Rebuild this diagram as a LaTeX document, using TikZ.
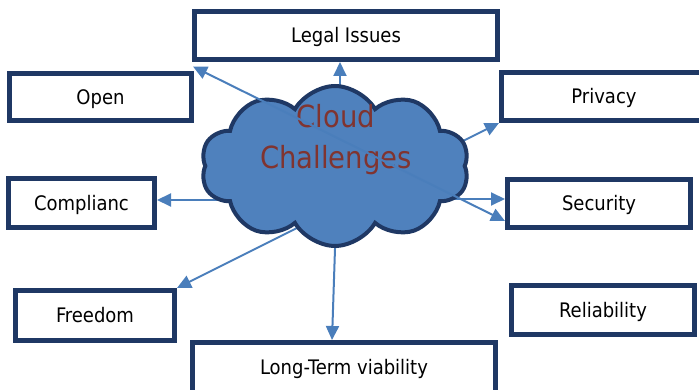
\documentclass[tikz,border=0pt]{standalone}
\usepackage{fontspec}
\setmainfont{DejaVu Sans Condensed}
\usetikzlibrary{positioning, shapes.symbols, arrows.meta, backgrounds, calc}

\definecolor{boxline}{RGB}{31,56,100}
\definecolor{cloudfill}{RGB}{79,129,189}
\definecolor{arrowblue}{RGB}{74,126,187}
\definecolor{titlered}{RGB}{128,52,48}

\begin{document}
\begin{tikzpicture}[x=1pt, y=-1pt,
    >={Triangle[length=14pt,width=13pt]},
    topic/.style={draw=boxline, line width=5pt, fill=white, inner sep=0pt,
        text height=14.5pt, text depth=0pt, font=\fontsize{20}{24}\selectfont},
    link/.style={draw=arrowblue, line width=2pt, ->},
    ]
    \useasboundingbox (0,0) rectangle (699,390);
    \clip (0,0) rectangle (699,390);

    % centre cloud
    \node[cloud, cloud puffs=10, cloud puff arc=120, aspect=1.7,
        draw=boxline, fill=cloudfill, line width=4pt, inner sep=0pt,
        minimum width=268pt, minimum height=160pt] (cloud) at (335,166) {};
    \node[font=\fontsize{30.5}{41}\selectfont, text=titlered,
        align=center, inner sep=0pt] (title) at (336,139.5) {Cloud\\Challenges};

    % the challenges
    \node[topic, minimum width=303pt, minimum height=48pt] (legal) at (346,35.5) {Legal Issues};
    \node[topic, minimum width=182pt, minimum height=47pt] (open) at (100.5,97) {Open};
    \node[topic, minimum width=205pt, minimum height=48pt] (privacy) at (604,96.5) {Privacy};
    \node[topic, minimum width=146pt, minimum height=49pt] (complianc) at (81.5,203) {Complianc};
    \node[topic, minimum width=183pt, minimum height=48pt] (security) at (599,203.5) {Security};
    \node[topic, minimum width=159pt, minimum height=50pt] (freedom) at (95,315.5) {Freedom};
    \node[topic, minimum width=183pt, minimum height=49pt] (reliability) at (603,310) {Reliability};
    \node[topic, minimum width=303pt, minimum height=50pt] (viability) at (344,367.5) {Long-Term viability};

    % arrows start under the cloud
    \begin{scope}[on background layer]
        \draw[link] ([xshift=5pt]cloud.center) -- ([xshift=-6pt]legal.south);
        \draw[link] ([shift={(95,-8.5)}]cloud.center) -- (privacy.south west);
        \draw[link] ([shift={(85,33)}]cloud.center) -- ([yshift=4.5pt]security.west);
        \draw[link] ([shift={(-95,34)}]cloud.center) -- ([yshift=3pt]complianc.east);
        \draw[link] ([shift={(-25,55.5)}]cloud.center) -- (freedom.north east);
        \draw[link] ([shift={(1.6,34)}]cloud.center) -- ([xshift=-12pt]viability.north);
    \end{scope}

    % this one runs across the cloud
    \draw[link, <->] ($(open.north east)!.5!(legal.south west)$) -- ([yshift=9pt]security.south west);
\end{tikzpicture}
\end{document}
